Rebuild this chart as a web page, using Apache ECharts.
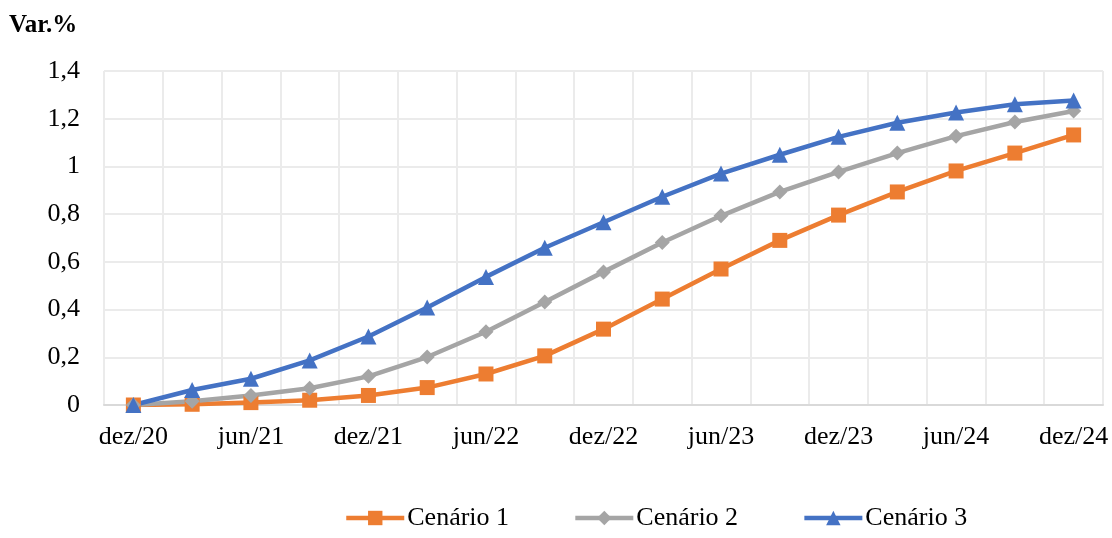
<!DOCTYPE html>
<html>
<head>
<meta charset="utf-8">
<script src="https://cdn.jsdelivr.net/npm/echarts@6/dist/echarts.min.js"></script>
<style>
  html, body { margin: 0; padding: 0; background: #ffffff; }
  #chart { width: 1112px; height: 538px; }
</style>
</head>
<body>
<div id="chart"></div>
<script>
// Quarterly periods, Dec/2020 to Dec/2024
const categories = ['dez/20','mar/21','jun/21','set/21','dez/21','mar/22','jun/22','set/22',
  'dez/22','mar/23','jun/23','set/23','dez/23','mar/24','jun/24','set/24','dez/24'];

const cenario1 = [0, 0.003, 0.01, 0.02, 0.04, 0.073, 0.13, 0.206, 0.318, 0.444, 0.57,
  0.69, 0.796, 0.893, 0.981, 1.056, 1.132];
const cenario2 = [0, 0.016, 0.04, 0.07, 0.12, 0.201, 0.307, 0.432, 0.558, 0.681, 0.793,
  0.893, 0.977, 1.056, 1.127, 1.186, 1.232];
const cenario3 = [0, 0.063, 0.11, 0.187, 0.287, 0.409, 0.537, 0.659, 0.766, 0.873, 0.97,
  1.049, 1.124, 1.183, 1.226, 1.261, 1.276];

const yTicks = { min: 0, max: 1.4, interval: 0.2 };

const font = "'Liberation Serif', 'Times New Roman', serif";

function makeSeries(name, data, color, symbol, size) {
  return {
    name, type: 'line', data,
    symbol, symbolSize: size,
    lineStyle: { color, width: 4.5 },
    itemStyle: { color },
    emphasis: { disabled: true }
  };
}

const chart = echarts.init(document.getElementById('chart'), null, { renderer: 'canvas' });
chart.setOption({
  animation: false,
  textStyle: { fontFamily: font },
  title: {
    text: 'Var.%', left: 4, top: 8,
    textStyle: { fontFamily: font, fontSize: 25, fontWeight: 'bold', color: '#000' }
  },
  grid: { left: 104, right: 9, top: 71, bottom: 133 },
  legend: {
    bottom: 2, left: 339,
    itemWidth: 58, itemHeight: 18, itemGap: 64,
    lineStyle: { width: 4.5 },
    textStyle: { fontFamily: font, fontSize: 26, color: '#000', padding: [0, 0, 0, -2] },
    data: ['Cenário 1', 'Cenário 2', 'Cenário 3']
  },
  xAxis: {
    type: 'category', data: categories, boundaryGap: true,
    axisLine: { lineStyle: { color: '#d9d9d9', width: 2 } },
    axisTick: { show: false },
    splitLine: { show: true, interval: 0, lineStyle: { color: '#ebebeb', width: 2 } },
    axisLabel: { interval: 1, margin: 19, fontFamily: font, fontSize: 26, color: '#000' }
  },
  yAxis: {
    type: 'value', min: yTicks.min, max: yTicks.max, interval: yTicks.interval,
    axisLine: { show: false }, axisTick: { show: false },
    splitLine: { lineStyle: { color: '#ebebeb', width: 2 } },
    axisLabel: {
      margin: 24, fontFamily: font, fontSize: 26, color: '#000',
      formatter: v => String(Math.round(v * 10) / 10).replace('.', ',')
    }
  },
  series: [
    makeSeries('Cenário 1', cenario1, '#ED7D31', 'rect', 15),
    makeSeries('Cenário 2', cenario2, '#A5A5A5', 'diamond', 15),
    makeSeries('Cenário 3', cenario3, '#4472C4', 'triangle', 16)
  ]
});
</script>
</body>
</html>
